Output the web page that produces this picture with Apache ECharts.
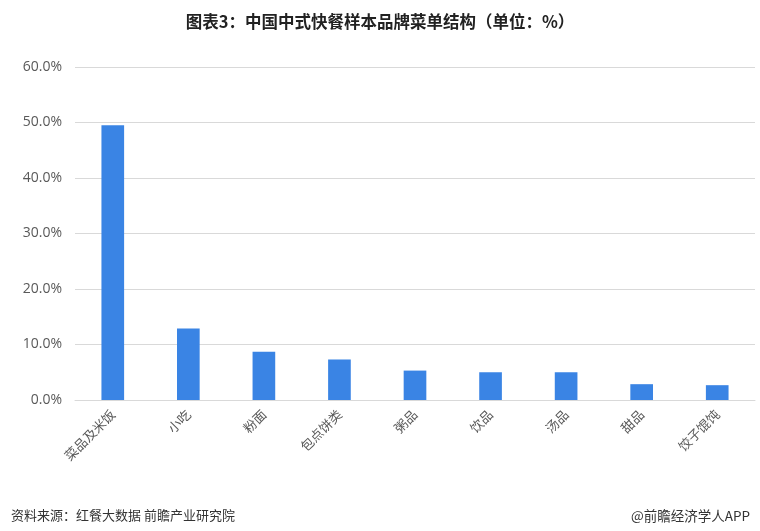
<!DOCTYPE html>
<html lang="zh">
<head>
    <meta charset="UTF-8">
    <title>中国中式快餐样本品牌菜单结构</title>
    <script src="https://cdn.jsdelivr.net/npm/echarts@6/dist/echarts.min.js"></script>
    <style>
        html, body { margin: 0; padding: 0; background: #fff; }
        #graph { width: 760px; height: 531px; }
    </style>
</head>
<body>
<div id="graph"></div>
<script>
    // 菜品分类
    var categories = ['菜品及米饭', '小吃', '粉面', '包点饼类', '粥品', '饮品', '汤品', '甜品', '饺子馄饨'];
    // 占比（%）
    var shares = [49.5, 12.9, 8.7, 7.3, 5.3, 5.0, 5.0, 2.85, 2.67];
    // y轴刻度
    var yMin = 0, yMax = 60, yStep = 10;

    var labelFont = '"Microsoft YaHei", "Noto Sans CJK SC", sans-serif';
    var myChart = echarts.init(document.getElementById('graph'));

    var option = {
        backgroundColor: '#fff',
        title: [
            {
                text: '图表3：中国中式快餐样本品牌菜单结构（单位：%）',
                left: 'center',
                top: 8,
                textStyle: { fontSize: 16.5, fontWeight: 'bold', color: '#222', fontFamily: labelFont }
            },
            {
                text: '资料来源：红餐大数据 前瞻产业研究院',
                left: 6,
                top: 504,
                textStyle: { fontSize: 13, fontWeight: 'normal', color: '#333', fontFamily: labelFont }
            },
            {
                text: '@前瞻经济学人APP',
                right: 5,
                top: 504,
                textStyle: { fontSize: 13.5, fontWeight: 'normal', color: '#333', fontFamily: labelFont }
            }
        ],
        grid: { left: 75, right: 5, top: 67, bottom: 131 },
        xAxis: {
            type: 'category',
            data: categories,
            axisLine: { lineStyle: { color: '#d9d9d9', width: 1 } },
            axisTick: { show: false },
            axisLabel: {
                rotate: 45,
                interval: 0,
                margin: 12,
                fontSize: 13,
                color: '#595959',
                fontFamily: labelFont
            }
        },
        yAxis: {
            type: 'value',
            min: yMin,
            max: yMax,
            interval: yStep,
            axisLine: { show: false },
            axisTick: { show: false },
            splitLine: { lineStyle: { color: '#d9d9d9', width: 1 } },
            axisLabel: {
                margin: 13,
                fontSize: 14,
                color: '#595959',
                fontFamily: '"Open Sans", "Noto Sans", sans-serif',
                formatter: function (v) { return v.toFixed(1) + '%'; }
            }
        },
        series: [
            {
                name: '占比',
                type: 'bar',
                data: shares,
                barWidth: '30%',
                itemStyle: { color: '#3a84e4' }
            }
        ]
    };

    myChart.setOption(option);
</script>
</body>
</html>
